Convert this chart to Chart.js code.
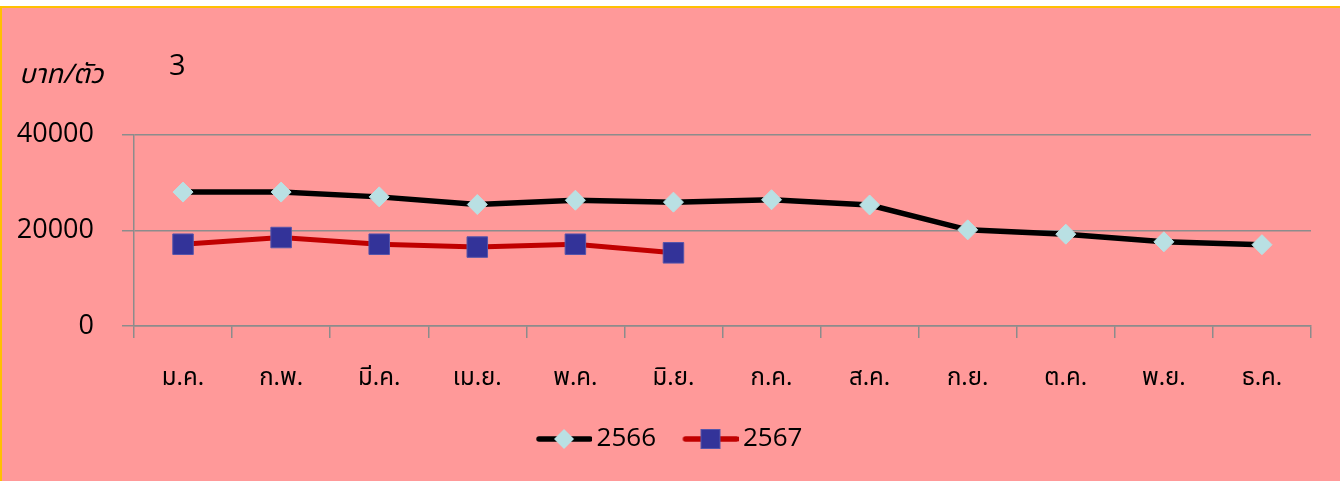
<!DOCTYPE html>
<html>
<head>
<meta charset="utf-8">
<script src="https://cdn.jsdelivr.net/npm/chart.js@4.4.1/dist/chart.umd.min.js"></script>
<style>
  html, body { margin: 0; padding: 0; background: #ffffff; overflow: hidden; }
  #wrap { position: absolute; left: 0; top: 6px; width: 1340px; height: 475px; box-sizing: border-box;
          border-left: 2px solid #FFC000; border-top: 2px solid #FFC000; background: #FF9999; }
  #c { display: block; }
</style>
</head>
<body>
<div id="wrap"><canvas id="c" width="1338" height="473" style="width:1338px;height:473px"></canvas></div>
<script>
const categories = ['ม.ค.', 'ก.พ.', 'มี.ค.', 'เม.ย.', 'พ.ค.', 'มิ.ย.', 'ก.ค.', 'ส.ค.', 'ก.ย.', 'ต.ค.', 'พ.ย.', 'ธ.ค.'];
const series2566 = [28000, 28000, 27000, 25400, 26300, 25900, 26400, 25300, 20100, 19200, 17600, 17000];
const series2567 = [17100, 18500, 17100, 16500, 17100, 15300, null, null, null, null, null, null];
const seriesNames = ['2566', '2567'];
const yTicks = [0, 20000, 40000];
const yAxisTitle = 'บาท/ตัว';
const chartTitle = '3';

const FONT = "'Noto Sans Thai', Tahoma, 'DejaVu Sans', sans-serif";
const NUMFONT = "'Open Sans', 'Liberation Sans', sans-serif";

function makeIcon(lineColor, kind) {
  const cv = document.createElement('canvas');
  cv.width = 64; cv.height = 26;
  const g = cv.getContext('2d');
  g.strokeStyle = lineColor; g.lineWidth = 5.5; g.lineCap = 'round';
  g.beginPath(); g.moveTo(11, 13); g.lineTo(62, 13); g.stroke();
  const cx = 36;
  if (kind === 'diamond') {
    g.fillStyle = '#B9E0E3';
    g.beginPath(); g.moveTo(cx, 3); g.lineTo(cx + 10, 13); g.lineTo(cx, 23); g.lineTo(cx - 10, 13); g.closePath(); g.fill();
  } else {
    g.fillStyle = '#333399'; g.strokeStyle = '#5555AA'; g.lineWidth = 1;
    g.fillRect(cx - 10, 3, 20, 20); g.strokeRect(cx - 9.5, 3.5, 19, 19);
  }
  return cv;
}
const legendIcons = [makeIcon('#000000', 'diamond'), makeIcon('#C00000', 'square')];

const textPlugin = {
  id: 'extraText',
  afterLayout(chart) {
    if (chart.legend) {
      chart.legend.left += 26;
      chart.legend.width -= 26;
    }
  },
  afterDraw(chart) {
    const ctx = chart.ctx;
    ctx.save();
    ctx.fillStyle = '#000';
    ctx.textBaseline = 'middle';
    ctx.textAlign = 'left';
    ctx.font = 'italic 27px ' + FONT;
    ctx.fillText(yAxisTitle, 17, 70);
    ctx.font = '500 29px ' + NUMFONT;
    ctx.fillText(chartTitle, 167, 59);
    ctx.restore();
  }
};

new Chart(document.getElementById('c'), {
  type: 'line',
  data: {
    labels: categories,
    datasets: [
      {
        label: seriesNames[0], data: series2566,
        borderColor: '#000000', borderWidth: 5.5,
        pointStyle: 'rectRot', pointRadius: 10, pointHoverRadius: 10,
        pointBackgroundColor: '#B9E0E3', pointBorderColor: '#B9E0E3', pointBorderWidth: 1,
        tension: 0
      },
      {
        label: seriesNames[1], data: series2567,
        borderColor: '#C00000', borderWidth: 5,
        pointStyle: 'rect', pointRadius: 14.5, pointHoverRadius: 14.5,
        pointBackgroundColor: '#333399', pointBorderColor: '#5555AA', pointBorderWidth: 1,
        tension: 0, spanGaps: false
      }
    ]
  },
  options: {
    responsive: false,
    animation: false,
    devicePixelRatio: 1,
    layout: { padding: { left: 0, right: 29, top: 126.7, bottom: 19 } },
    plugins: {
      legend: {
        display: true, position: 'bottom',
        labels: {
          usePointStyle: true, pointStyleWidth: 47, padding: 27,
          color: '#000', font: { family: NUMFONT, size: 26, weight: '500' },
          generateLabels(chart) {
            const items = Chart.defaults.plugins.legend.labels.generateLabels(chart);
            items.forEach((it, i) => { it.pointStyle = legendIcons[i]; it.rotation = 0; it.fontColor = '#000'; });
            return items;
          }
        }
      },
      tooltip: { enabled: false },
      title: { display: false }
    },
    scales: {
      x: {
        offset: true,
        grid: { display: true, drawOnChartArea: false, drawTicks: true, tickLength: 12, offset: true, color: '#8C8C8C', lineWidth: 1.5 },
        border: { display: true, color: '#8C8C8C', width: 1.5 },
        ticks: { color: '#000', padding: 28, font: { family: FONT, size: 24 }, maxRotation: 0, autoSkip: false },
        afterFit(scale) { scale.height = 73; }
      },
      y: {
        min: 0, max: 40000,
        afterBuildTicks(scale) { scale.ticks = yTicks.map(v => ({ value: v })); },
        grid: { color: '#8C8C8C', lineWidth: 1.5, drawTicks: true, tickLength: 12 },
        border: { display: true, color: '#8C8C8C', width: 1.5 },
        ticks: { color: '#000', padding: 28, font: { family: NUMFONT, size: 27 }, callback: v => String(v) },
        afterFit(scale) { scale.width = 132; }
      }
    }
  },
  plugins: [textPlugin]
});
</script>
</body>
</html>
